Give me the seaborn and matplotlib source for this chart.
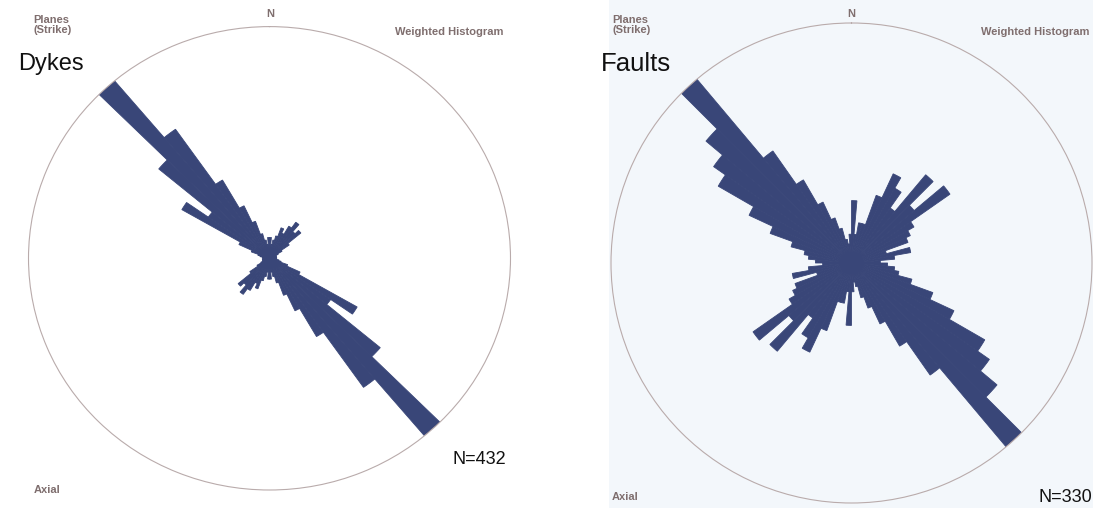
import numpy as np
import pandas as pd
import matplotlib
matplotlib.use("Agg")
import matplotlib.pyplot as plt
import seaborn as sns

# Strike bins (degrees, start of each 5-degree class over 0-180, axial data)
bin_start = list(range(0, 180, 5))

# Weighted strike frequencies, scaled so the largest class reaches the outer circle
dyke_weight = [0.09, 0.06, 0.08, 0.10, 0.14, 0.12, 0.16, 0.19, 0.15, 0.17,
               0.10, 0.06, 0.04, 0.03, 0.03, 0.02, 0.03, 0.02, 0.03, 0.03,
               0.04, 0.05, 0.08, 0.14, 0.42, 0.31, 0.60, 1.00, 0.68, 0.39,
               0.25, 0.17, 0.11, 0.08, 0.06, 0.09]
fault_weight = [0.26, 0.12, 0.17, 0.17, 0.30, 0.41, 0.36, 0.28, 0.48, 0.34,
                0.50, 0.30, 0.27, 0.25, 0.15, 0.25, 0.18, 0.12, 0.15, 0.18,
                0.20, 0.26, 0.36, 0.47, 0.64, 0.70, 0.79, 1.00, 0.57, 0.40,
                0.28, 0.20, 0.15, 0.10, 0.08, 0.12]

panel_titles = ["Dykes", "Faults"]
sample_sizes = ["N=432", "N=330"]
BIN = 5

W, H = 1111, 508
NAVY = "#394678"
TXT = "#7f6e6e"
RING = "#b9abab"

sns.set_theme(style="white")
plt.rcParams["font.family"] = ["Liberation Sans", "DejaVu Sans"]

fig = plt.figure(figsize=(W / 100, H / 100), dpi=100)
fig.patch.set_facecolor("white")


def frac_box(x0, y0, x1, y1):
    """Pixel rectangle (origin top-left) -> figure fraction [l, b, w, h]."""
    return [x0 / W, 1 - y1 / H, (x1 - x0) / W, (y1 - y0) / H]


def panel(x0, x1, color):
    ax = fig.add_axes(frac_box(x0, 0, x1, H))
    ax.set_facecolor(color)
    ax.set_xticks([])
    ax.set_yticks([])
    for s in ax.spines.values():
        s.set_visible(False)
    ax.set_xlim(x0, x1)
    ax.set_ylim(H, 0)
    return ax


def rose(cx, cy, rx, ry, weights):
    ax = fig.add_axes(frac_box(cx - rx, cy - ry, cx + rx, cy + ry), projection="polar")
    ax.set_facecolor("none")
    ax.set_aspect("auto")
    centers = np.deg2rad(np.array(bin_start) + BIN / 2)
    # axial data: each strike class is plotted in both opposite directions
    df = pd.DataFrame({
        "angle": np.concatenate([centers, centers + np.pi]),
        "weight": np.concatenate([weights, weights]),
    })
    edges = [float(e) for e in np.deg2rad(np.arange(0, 360 + BIN, BIN))]
    sns.histplot(data=df, x="angle", weights="weight", bins=edges, ax=ax,
                 element="bars", facecolor=NAVY, edgecolor=NAVY, linewidth=0.6)
    ax.set_theta_zero_location("N")
    ax.set_theta_direction(-1)
    ax.set_ylim(0, 1.0)
    ax.set_xticks([])
    ax.set_yticks([])
    ax.grid(False)
    ax.set_xlabel("")
    ax.set_ylabel("")
    ax.spines["polar"].set_color(RING)
    ax.spines["polar"].set_linewidth(0.8)
    return ax


left = panel(0, 609, "white")
right = panel(609, 1093, "#f3f7fb")

rose(269.5, 258.3, 241, 231.7, dyke_weight)
rose(851.5, 263.0, 240.5, 240.0, fault_weight)

# (axes, planes-x, N-x, weighted-x, title-x, axial-x, count-x, count-y, axial-y, title size)
specs = [
    (left, 33, 270, 395, 18, 34, 506, 459, 490, 17),
    (right, 612, 851.5, 981, 601, 612, 1092, 497, 497, 18.5),
]
for i, (ax, xp, xn, xw, xt, xa, xN, yN, ya, tsize) in enumerate(specs):
    kw = dict(color=TXT, fontsize=8, fontweight="bold")
    ax.text(xp, 25, "Planes\n(Strike)", ha="left", va="center", linespacing=0.95, **kw)
    ax.text(xn, 14, "N", ha="center", va="center", **kw)
    ax.text(xw, 32, "Weighted Histogram", ha="left", va="center", clip_on=True, **kw)
    ax.text(xa, ya, "Axial", ha="left", va="center", **kw)
    ax.text(xt, 64, panel_titles[i], ha="left", va="center", fontsize=tsize,
            color="#111111")
    ax.text(xN, yN, sample_sizes[i], ha="right", va="center", fontsize=13,
            color="#111111")

fig.savefig("out.png", dpi=100, facecolor="white")
